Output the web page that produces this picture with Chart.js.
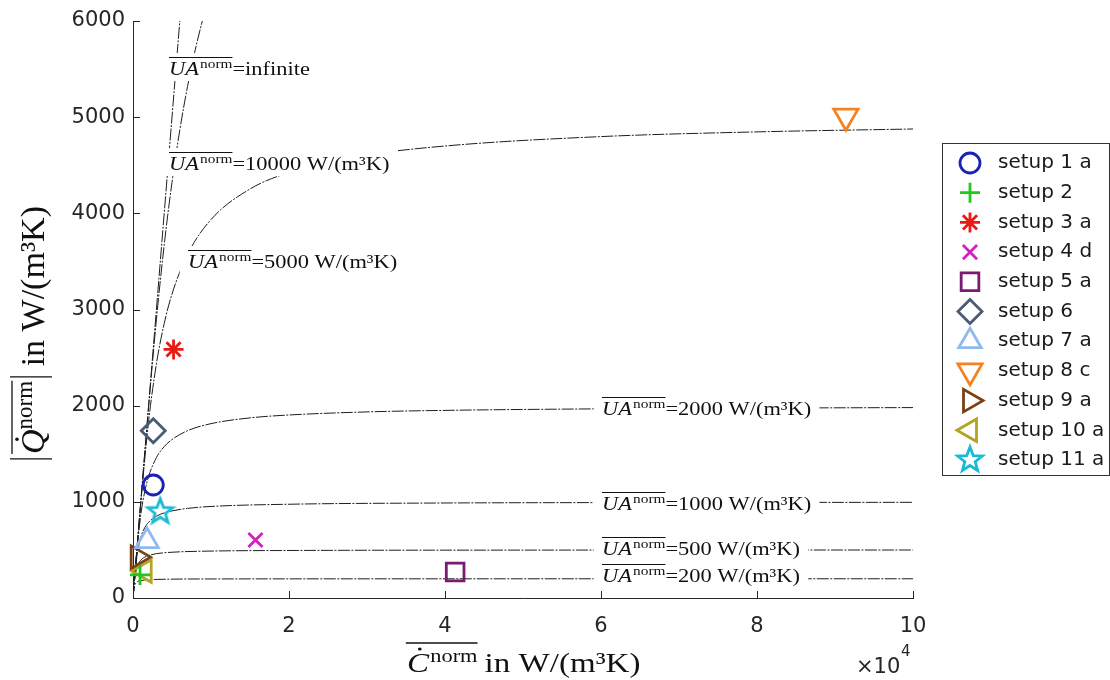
<!DOCTYPE html>
<html>
<head>
<meta charset="utf-8">
<script src="https://cdn.jsdelivr.net/npm/chart.js@4.4.0/dist/chart.umd.min.js"></script>
<style>
  html, body { margin: 0; padding: 0; background: #fff; }
</style>
</head>
<body>
<canvas id="chart" width="1110" height="680"></canvas>
<script>
// measured setups: C in 1e4 W/(m3K), Q in W/(m3K)
const setupNames = ['setup 1 a', 'setup 2', 'setup 3 a', 'setup 4 d', 'setup 5 a', 'setup 6',
                    'setup 7 a', 'setup 8 c', 'setup 9 a', 'setup 10 a', 'setup 11 a'];
const setupC = [0.26, 0.09, 0.52, 1.57, 4.13, 0.26, 0.18, 9.14, 0.06, 0.15, 0.35];
const setupQ = [1175, 240, 2585, 603, 270, 1740, 592, 5010, 425, 280, 897];

// UA^norm lines
const uaInfC = [0, 0.6];
const uaInfQ = [0, 6000];
const ua10000C = [0, 0.1, 0.2, 0.3, 0.4, 0.5, 0.6, 0.7, 0.8, 0.9];
const ua10000Q = [0, 1000, 1987, 2893, 3672, 4323, 4867, 5322, 5708, 6037];
const ua5000C = [0, 0.1, 0.2, 0.3, 0.4, 0.5, 0.7, 1, 1.5, 2, 3, 4, 6, 8, 10];
const ua5000Q = [0, 993, 1836, 2433, 2854, 3161, 3574, 3935, 4253, 4424, 4605, 4700, 4798, 4847, 4877];
const ua2000C = [0, 0.05, 0.1, 0.15, 0.2, 0.3, 0.4, 0.5, 0.7, 1, 1.5, 2, 3, 4, 6, 8, 10];
const ua2000Q = [0, 491, 865, 1105, 1264, 1460, 1574, 1648, 1740, 1813, 1873, 1903, 1935, 1951, 1967, 1975, 1980];
const ua1000C = [0, 0.02, 0.05, 0.1, 0.15, 0.2, 0.3, 0.4, 0.5, 0.7, 1, 2, 4, 6, 10];
const ua1000Q = [0, 199, 432, 632, 730, 787, 850, 885, 906, 932, 952, 975, 988, 992, 995];
const ua500C = [0, 0.01, 0.02, 0.05, 0.1, 0.15, 0.2, 0.3, 0.5, 1, 2, 5, 10];
const ua500Q = [0, 99, 184, 316, 393, 425, 442, 461, 476, 488, 494, 498, 499];
const ua200C = [0, 0.01, 0.02, 0.05, 0.1, 0.2, 0.5, 1, 2, 10];
const ua200Q = [0, 86, 126, 165, 181, 190, 196, 198, 199, 200];

const xTicks = [0, 2, 4, 6, 8, 10];
const yTicks = [0, 1000, 2000, 3000, 4000, 5000, 6000];

// inline labels on the lines
const curveLabels = ['infinite', '10000 W/(m³K)', '5000 W/(m³K)', '2000 W/(m³K)',
                     '1000 W/(m³K)', '500 W/(m³K)', '200 W/(m³K)'];
const curveLabelPos = [[169, 75], [169, 170], [188, 268], [602, 415], [602, 510], [602, 555], [602, 582]];

// marker styles
const setupColors = ['#1a22b4', '#1ec81e', '#e81a14', '#d61fc2', '#7b1a72', '#4b5b74',
                     '#8fb9ef', '#f5821f', '#7b3f16', '#b3a523', '#1ab9d6'];
const SX = 1.18; // the original is stretched sideways
const MW = 2.8;  // marker line width

function pentagram(color, r, lw) {
    const c = document.createElement('canvas');
    const s = Math.ceil(2 * r + lw * 2 + 2);
    c.width = s; c.height = s;
    const g = c.getContext('2d');
    g.strokeStyle = color;
    g.lineWidth = lw;
    g.beginPath();
    for (let i = 0; i < 10; i++) {
        const a = -Math.PI / 2 + i * Math.PI / 5;
        const rr = i % 2 ? r * 0.42 : r;
        g.lineTo(s / 2 + rr * Math.cos(a), s / 2 + rr * Math.sin(a));
    }
    g.closePath();
    g.stroke();
    return c;
}

const setupStyles = ['circle', 'cross', 'star', 'crossRot', 'rect', 'rectRot', 'triangle',
                     'triangle', 'triangle', 'triangle', pentagram('#1ab9d6', 13, MW)];
const setupRot = [0, 0, 0, 0, 0, 0, 0, 180, 90, -90, 0];
const setupSize = [10, 10, 10, 10, 12.5, 12, 13, 14, 13, 13, 13];

const markerSets = setupNames.map((name, i) => ({
    label: name,
    data: [{x: setupC[i], y: setupQ[i]}],
    showLine: false,
    pointStyle: setupStyles[i],
    pointRotation: setupRot[i],
    pointRadius: setupSize[i],
    pointBorderWidth: MW,
    borderWidth: MW,
    borderColor: setupColors[i],
    backgroundColor: 'rgba(0,0,0,0)',
    clip: false
}));

function curve(cs, qs) {
    return {
        label: '',
        data: cs.map((c, i) => ({x: c, y: qs[i]})),
        showLine: true,
        pointRadius: 0,
        borderColor: '#1e1e1e',
        borderWidth: 1,
        borderDash: [12, 1.5, 2, 1.5],
        cubicInterpolationMode: 'monotone',
        fill: false
    };
}

const curveSets = [
    curve(uaInfC, uaInfQ), curve(ua10000C, ua10000Q), curve(ua5000C, ua5000Q),
    curve(ua2000C, ua2000Q), curve(ua1000C, ua1000Q), curve(ua500C, ua500Q), curve(ua200C, ua200Q)
];

// UA^norm = ... labels with white box
function drawUA(ctx, x, y, rest) {
    ctx.save();
    ctx.translate(x, y);
    ctx.scale(SX, 1);
    ctx.font = 'italic 19px "Liberation Serif"';
    const wUA = ctx.measureText('UA').width;
    ctx.font = '13px "Liberation Serif"';
    const wN = ctx.measureText('norm').width;
    ctx.font = '19px "Liberation Serif"';
    const wR = ctx.measureText('=' + rest).width;
    const total = wUA + 1 + wN + wR;
    ctx.fillStyle = '#fff';
    ctx.fillRect(-7, -22, total + 14, 28);
    ctx.fillStyle = '#111';
    ctx.textBaseline = 'alphabetic';
    ctx.font = 'italic 19px "Liberation Serif"';
    ctx.fillText('UA', 0, 0);
    ctx.font = '13px "Liberation Serif"';
    ctx.fillText('norm', wUA + 1, -7);
    ctx.font = '19px "Liberation Serif"';
    ctx.fillText('=' + rest, wUA + 1 + wN, 0);
    ctx.strokeStyle = '#111';
    ctx.lineWidth = 1;
    ctx.beginPath();
    ctx.moveTo(0, -17.5);
    ctx.lineTo(wUA + 1 + wN, -17.5);
    ctx.stroke();
    ctx.restore();
}

function drawXTitle(ctx) {
    ctx.save();
    ctx.translate(407, 672);
    ctx.scale(SX, 1);
    ctx.fillStyle = '#111';
    ctx.strokeStyle = '#111';
    ctx.font = 'italic 28px "Liberation Serif"';
    const wC = ctx.measureText('C').width;
    ctx.fillText('C', 0, 0);
    ctx.beginPath();
    ctx.arc(wC * 0.58, -23, 1.6, 0, Math.PI * 2);
    ctx.fill();
    ctx.font = '19px "Liberation Serif"';
    const wN = ctx.measureText('norm').width;
    ctx.fillText('norm', wC + 1, -10);
    ctx.lineWidth = 1.3;
    ctx.beginPath();
    ctx.moveTo(-1, -29);
    ctx.lineTo(wC + 1 + wN, -29);
    ctx.stroke();
    ctx.font = '28px "Liberation Serif"';
    ctx.fillText('in W/(m³K)', wC + wN + 7, 0);
    ctx.restore();
}

function drawYTitle(ctx) {
    ctx.save();
    ctx.translate(44, 331);
    ctx.rotate(-Math.PI / 2);
    ctx.fillStyle = '#111';
    ctx.strokeStyle = '#111';
    ctx.font = 'italic 34px "Liberation Serif"';
    const wQ = ctx.measureText('Q').width;
    ctx.font = '23px "Liberation Serif"';
    const wN = ctx.measureText('norm').width;
    ctx.font = '34px "Liberation Serif"';
    const wR = ctx.measureText(' in W/(m³K)').width;
    const total = 8 + wQ + wN + 8 + wR;
    let x = -total / 2;
    ctx.lineWidth = 1.3;
    ctx.beginPath();
    ctx.moveTo(x + 1, 8); ctx.lineTo(x + 1, -34);
    ctx.stroke();
    x += 6;
    ctx.font = 'italic 34px "Liberation Serif"';
    ctx.fillText('Q', x, 0);
    ctx.beginPath();
    ctx.arc(x + wQ * 0.6, -27, 1.8, 0, Math.PI * 2);
    ctx.fill();
    ctx.font = '23px "Liberation Serif"';
    ctx.fillText('norm', x + wQ, -12);
    ctx.beginPath();
    ctx.moveTo(x, -32); ctx.lineTo(x + wQ + wN, -32);
    ctx.stroke();
    x += wQ + wN + 4;
    ctx.beginPath();
    ctx.moveTo(x, 8); ctx.lineTo(x, -34);
    ctx.stroke();
    x += 2;
    ctx.font = '34px "Liberation Serif"';
    ctx.fillText(' in W/(m³K)', x, 0);
    ctx.restore();
}

const extras = {
    id: 'extras',
    afterDatasetsDraw(chart) {
        const ctx = chart.ctx;
        curveLabels.forEach((t, i) => drawUA(ctx, curveLabelPos[i][0], curveLabelPos[i][1], t));
    },
    afterDraw(chart) {
        const ctx = chart.ctx;
        const xs = chart.scales.x, ys = chart.scales.y;
        const area = chart.chartArea;
        // inward ticks
        ctx.save();
        ctx.strokeStyle = '#262626';
        ctx.lineWidth = 1;
        ctx.beginPath();
        xTicks.forEach(v => {
            const px = Math.round(xs.getPixelForValue(v)) + 0.5;
            ctx.moveTo(px, area.bottom); ctx.lineTo(px, area.bottom - 7);
        });
        yTicks.forEach(v => {
            const py = Math.round(ys.getPixelForValue(v)) + 0.5;
            ctx.moveTo(area.left, py); ctx.lineTo(area.left + 7, py);
        });
        ctx.stroke();
        ctx.restore();

        // exponent
        ctx.save();
        ctx.fillStyle = '#262626';
        ctx.font = '21px "DejaVu Sans"';
        ctx.fillText('×10', 856, 673);
        ctx.font = '15px "DejaVu Sans"';
        ctx.fillText('4', 901, 656);
        ctx.restore();

        drawXTitle(ctx);
        drawYTitle(ctx);

        // legend
        const lx = 942, ly = 143, lw = 167, lh = 332;
        ctx.save();
        ctx.fillStyle = '#fff';
        ctx.fillRect(lx, ly, lw, lh);
        ctx.strokeStyle = '#333';
        ctx.lineWidth = 1;
        ctx.strokeRect(lx + 0.5, ly + 0.5, lw, lh);
        setupNames.forEach((name, i) => {
            const cy = 163 + i * 29.7;
            ctx.save();
            ctx.strokeStyle = setupColors[i];
            ctx.fillStyle = 'rgba(0,0,0,0)';
            ctx.lineWidth = MW;
            Chart.helpers.drawPoint(ctx, {
                pointStyle: setupStyles[i],
                rotation: setupRot[i],
                radius: setupSize[i],
                borderWidth: MW
            }, 970, cy);
            ctx.restore();
            ctx.fillStyle = '#1a1a1a';
            ctx.font = '20px "DejaVu Sans"';
            ctx.textBaseline = 'middle';
            ctx.fillText(name, 998, cy);
        });
        ctx.restore();
    }
};

new Chart(document.getElementById('chart'), {
    type: 'scatter',
    data: {datasets: markerSets.concat(curveSets)},
    options: {
        responsive: false,
        animation: false,
        layout: {padding: {top: 21, right: 197, left: 0, bottom: 0}},
        plugins: {legend: {display: false}, tooltip: {enabled: false}},
        scales: {
            x: {
                type: 'linear', min: 0, max: 10,
                afterBuildTicks: s => { s.ticks = xTicks.map(v => ({value: v})); },
                afterFit: s => { s.height = 82; },
                ticks: {color: '#262626', padding: 16, font: {family: 'DejaVu Sans', size: 21},
                        callback: v => String(v)},
                grid: {display: false, drawTicks: false},
                border: {display: true, color: '#262626', width: 1}
            },
            y: {
                type: 'linear', min: 0, max: 6000,
                afterBuildTicks: s => { s.ticks = yTicks.map(v => ({value: v})); },
                afterFit: s => { s.width = 133; },
                ticks: {color: '#262626', padding: 8, font: {family: 'DejaVu Sans', size: 21},
                        callback: v => String(v)},
                grid: {display: false, drawTicks: false},
                border: {display: true, color: '#262626', width: 1}
            }
        }
    },
    plugins: [extras]
});
</script>
</body>
</html>
